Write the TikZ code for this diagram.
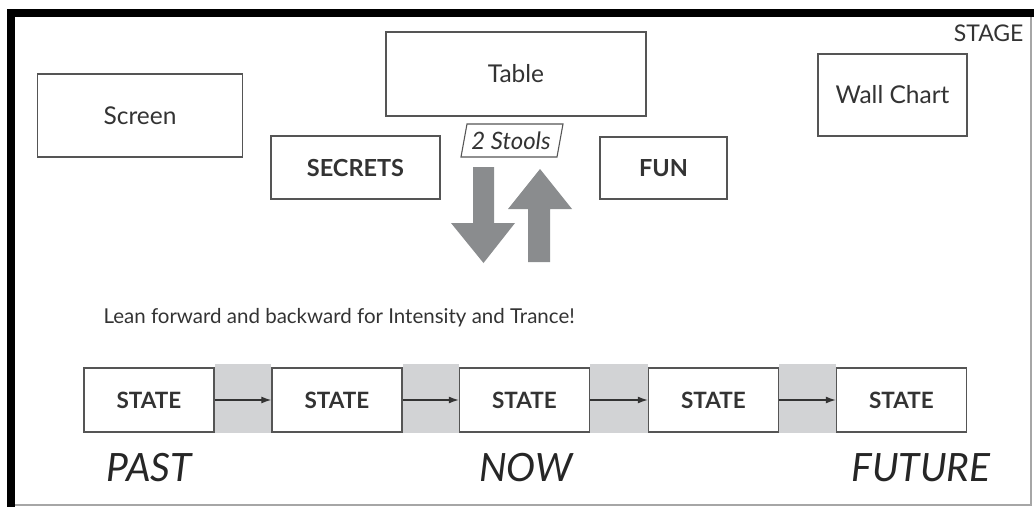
\documentclass[tikz,border=0pt]{standalone}
\usepackage{fontspec}
\setmainfont{Lato}
\usetikzlibrary{arrows.meta,backgrounds}
\definecolor{linegray}{HTML}{555555}
\definecolor{inkgray}{HTML}{333333}
\definecolor{arrowgray}{HTML}{8A8C8E}
\definecolor{bandgray}{HTML}{D2D3D5}
\tikzset{
  boxed/.style={draw=linegray, line width=1.4pt, fill=white, text=inkgray,
    inner sep=0pt, font=\fontsize{24.5}{28}\selectfont},
  capsbox/.style={boxed, font=\fontsize{23.5}{28}\selectfont\bfseries},
  statebox/.style={boxed, minimum width=130pt, minimum height=64pt,
    font=\fontsize{22.5}{26}\selectfont\bfseries},
  flow/.style={draw=inkgray, line width=1.3pt, -{Latex[length=10pt,width=7pt]}},
  timelabel/.style={text=black!85, font=\fontsize{39}{44}\selectfont\itshape},
  fatarrow/.style={fill=arrowgray, draw=none}
}
\begin{document}
\begin{tikzpicture}[x=1pt,y=-1pt]
\useasboundingbox (0,0) rectangle (1034,507);

% stage frame: thin outline with heavy top and left edges
\draw[gray!70, line width=1.2pt] (12,14) rectangle (1031,505);
\draw[black, line width=8pt] (1034,12.5) -- (11,12.5) -- (11,507);
\node[anchor=east, text=inkgray, font=\fontsize{23}{26}\selectfont] (stage) at (1027,33) {STAGE};

% furniture
\node[boxed, minimum width=205pt, minimum height=83pt] (screen) at (140,115.5) {Screen};
\node[boxed, minimum width=260pt, minimum height=84pt] (table) at (516,74) {Table};
\node[capsbox, minimum width=169pt, minimum height=63pt] (secrets) at (355.5,167.5) {SECRETS};
\node[capsbox, minimum width=127pt, minimum height=62pt] (fun) at (663.5,168) {FUN};
\node[boxed, minimum width=149pt, minimum height=82pt] (wall) at (892.5,95) {Wall Chart};

% stools label in a slanted frame
\node[text=inkgray, font=\fontsize{24}{28}\selectfont\itshape] (stools) at (511,140.5) {2 Stools};
\draw[linegray, line width=1.1pt] (467,124) -- (563,124) -- (557,157) -- (461,157) -- cycle;

% lean forward / backward arrows
\fill[fatarrow] (473,167) -- (494,167) -- (494,223) -- (515,223) -- (483.5,263)
  -- (451,223) -- (473,223) -- cycle;
\fill[fatarrow] (528,262) -- (550,262) -- (550,209) -- (572,209) -- (540,169)
  -- (508,209) -- (528,209) -- cycle;

\node[anchor=west, text=inkgray, font=\fontsize{20.5}{24}\selectfont] (lean) at (100,318)
  {Lean forward and backward for Intensity and Trance!};

% timeline of states
\node[statebox] (s1) at (149,400) {STATE};
\node[statebox] (s2) at (337,400) {STATE};
\node[statebox] (s3) at (524.5,400) {STATE};
\node[statebox] (s4) at (713.5,400) {STATE};
\node[statebox] (s5) at (901.5,400) {STATE};

\begin{pgfonlayer}{background}
  \foreach \a/\b in {s1/s2, s2/s3, s3/s4, s4/s5}
    \fill[bandgray] ([yshift=3pt]\a.north east) rectangle (\b.south west);
\end{pgfonlayer}

\foreach \a/\b in {s1/s2, s2/s3, s3/s4, s4/s5}
  \draw[flow] (\a) -- (\b);

\node[timelabel] (past) at (149,468) {PAST};
\node[timelabel] (now) at (526,468) {NOW};
\node[timelabel] (future) at (921,468) {FUTURE};
\end{tikzpicture}
\end{document}
